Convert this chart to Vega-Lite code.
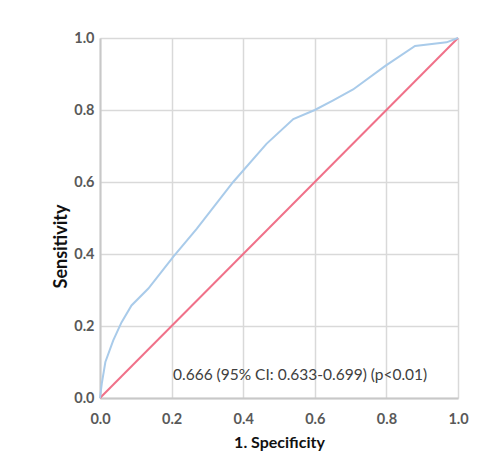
{
  "$schema": "https://vega.github.io/schema/vega-lite/v6.json",
  "width": 358,
  "height": 360,
  "autosize": {"type": "none"},
  "padding": {"left": 100, "top": 38, "right": 41, "bottom": 67},
  "background": "white",
  "config": {
    "view": {"stroke": null},
    "font": "Lato",
    "axis": {
      "gridColor": "#d9d9d9",
      "gridWidth": 1.5,
      "domainColor": "#c8c8c8",
      "domainWidth": 2,
      "ticks": false,
      "labelFlush": false,
      "labelColor": "#595959",
      "labelFont": "Lato",
      "labelFontSize": 14.5,
      "labelFontWeight": "bold",
      "titleFont": "Lato",
      "titleFontSize": 16,
      "titleFontWeight": "bold",
      "titleColor": "#111111"
    }
  },
  "datasets": {
    "roc": [
      {"fpr": 0, "tpr": 0},
      {"fpr": 0.005, "tpr": 0.04},
      {"fpr": 0.015, "tpr": 0.1},
      {"fpr": 0.037, "tpr": 0.16},
      {"fpr": 0.06, "tpr": 0.21},
      {"fpr": 0.088, "tpr": 0.257},
      {"fpr": 0.135, "tpr": 0.304},
      {"fpr": 0.205, "tpr": 0.393},
      {"fpr": 0.27, "tpr": 0.47},
      {"fpr": 0.372, "tpr": 0.6},
      {"fpr": 0.465, "tpr": 0.706},
      {"fpr": 0.54, "tpr": 0.775},
      {"fpr": 0.6, "tpr": 0.8},
      {"fpr": 0.65, "tpr": 0.826},
      {"fpr": 0.707, "tpr": 0.857},
      {"fpr": 0.796, "tpr": 0.922},
      {"fpr": 0.88, "tpr": 0.978},
      {"fpr": 0.968, "tpr": 0.988},
      {"fpr": 1, "tpr": 1}
    ],
    "ref": [
      {"fpr": 0, "tpr": 0},
      {"fpr": 1, "tpr": 1}
    ],
    "label": [
      {"fpr": 0.559, "tpr": 0.064, "text": "0.666 (95% CI: 0.633-0.699) (p<0.01)"}
    ]
  },
  "layer": [
    {
      "data": {"name": "ref"},
      "mark": {"type": "line", "color": "#f07189", "strokeWidth": 2},
      "encoding": {
        "x": {
          "field": "fpr", "type": "quantitative",
          "scale": {"domain": [0, 1], "nice": false},
          "axis": {"values": [0, 0.2, 0.4, 0.6, 0.8, 1], "format": ".1f", "title": "1. Specificity", "labelPadding": 14, "titlePadding": 9}
        },
        "y": {
          "field": "tpr", "type": "quantitative",
          "scale": {"domain": [0, 1], "nice": false},
          "axis": {"values": [0, 0.2, 0.4, 0.6, 0.8, 1], "format": ".1f", "title": "Sensitivity", "labelPadding": 6, "titlePadding": 3, "titleFontSize": 18, "titleY": 208}
        }
      }
    },
    {
      "data": {"name": "roc"},
      "mark": {"type": "line", "color": "#a9cbea", "strokeWidth": 2},
      "encoding": {
        "x": {"field": "fpr", "type": "quantitative"},
        "y": {"field": "tpr", "type": "quantitative"},
        "order": {"field": "fpr", "type": "quantitative"}
      }
    },
    {
      "data": {"name": "label"},
      "mark": {"type": "text", "fontSize": 15.5, "color": "#404040", "align": "center", "baseline": "middle", "font": "Lato"},
      "encoding": {
        "x": {"field": "fpr", "type": "quantitative"},
        "y": {"field": "tpr", "type": "quantitative"},
        "text": {"field": "text"}
      }
    }
  ]
}
